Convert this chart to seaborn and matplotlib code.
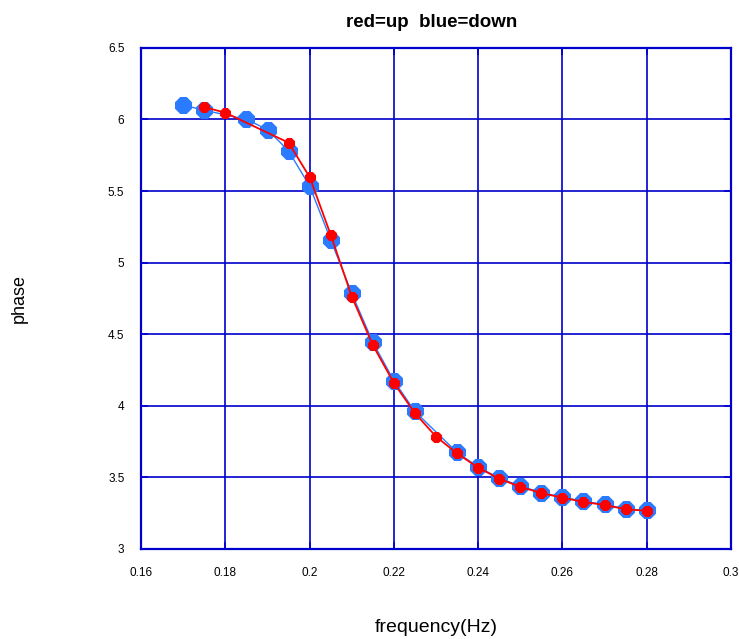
import matplotlib
matplotlib.use("Agg")
import matplotlib.pyplot as plt
import seaborn as sns
import pandas as pd

# Sweep down (blue)
freq_down = [0.170, 0.175, 0.185, 0.190, 0.195, 0.200, 0.205, 0.210, 0.215, 0.220,
             0.225, 0.235, 0.240, 0.245, 0.250, 0.255, 0.260, 0.265, 0.270, 0.275, 0.280]
phase_down = [6.10, 6.065, 6.00, 5.93, 5.78, 5.535, 5.16, 4.785, 4.443, 4.175,
              3.96, 3.674, 3.572, 3.495, 3.439, 3.393, 3.362, 3.332, 3.311, 3.280, 3.269]

# Sweep up (red)
freq_up = [0.175, 0.180, 0.195, 0.200, 0.205, 0.210, 0.215, 0.220, 0.225, 0.230,
           0.235, 0.240, 0.245, 0.250, 0.255, 0.260, 0.265, 0.270, 0.275, 0.280]
phase_up = [6.087, 6.047, 5.838, 5.598, 5.195, 4.763, 4.424, 4.159, 3.948, 3.785,
            3.667, 3.568, 3.49, 3.434, 3.39, 3.358, 3.328, 3.307, 3.277, 3.266]

xticks = [0.16, 0.18, 0.2, 0.22, 0.24, 0.26, 0.28, 0.3]
xtick_labels = ["0.16", "0.18", "0.2", "0.22", "0.24", "0.26", "0.28", "0.3"]
yticks = [3, 3.5, 4, 4.5, 5, 5.5, 6, 6.5]
ytick_labels = ["3", "3.5", "4", "4.5", "5", "5.5", "6", "6.5"]

sns.set_style("white")
plt.rcParams["font.family"] = ["Liberation Sans", "DejaVu Sans"]
plt.rcParams["text.color"] = "black"
plt.rcParams["axes.labelcolor"] = "black"
plt.rcParams["axes.titlecolor"] = "black"

grid_blue = "#0000CC"
down_blue = "#2A7BFF"
up_red = "#FF0000"

fig = plt.figure(figsize=(7.39, 6.39), dpi=100)
ax = fig.add_axes([0.191, 0.141, 0.798, 0.784])

df_down = pd.DataFrame({"f": freq_down, "p": phase_down})
df_up = pd.DataFrame({"f": freq_up, "p": phase_up})

sns.lineplot(data=df_down, x="f", y="p", ax=ax, color=down_blue, linewidth=1.0,
             marker="8", markersize=12, markeredgecolor=down_blue, estimator=None,
             sort=False, zorder=3)
sns.lineplot(data=df_up, x="f", y="p", ax=ax, color=up_red, linewidth=1.3,
             marker="8", markersize=7.5, markeredgecolor=up_red, estimator=None,
             sort=False, zorder=4)

ax.set_xlim(0.16, 0.3)
ax.set_ylim(3, 6.5)
ax.set_xticks(xticks)
ax.set_xticklabels(xtick_labels)
ax.set_yticks(yticks)
ax.set_yticklabels(ytick_labels)

ax.grid(True, color=grid_blue, linewidth=1.2, linestyle="-")
ax.set_axisbelow(True)
for s in ax.spines.values():
    s.set_color(grid_blue)
    s.set_linewidth(1.6)
    s.set_visible(True)

ax.tick_params(axis="both", which="both", direction="in", length=5, width=1.2,
               color=grid_blue, labelsize=8.5, labelcolor="black",
               top=True, right=True, bottom=True, left=True)
ax.tick_params(axis="x", pad=13)
ax.tick_params(axis="y", pad=12)

ax.set_title("red=up  blue=down", fontsize=13.5, fontweight="bold", pad=15, x=0.493)
ax.set_xlabel("frequency(Hz)", fontsize=14, labelpad=29)
ax.set_ylabel("phase", fontsize=13, labelpad=58)

fig.savefig("out.png", dpi=100, facecolor="white")
